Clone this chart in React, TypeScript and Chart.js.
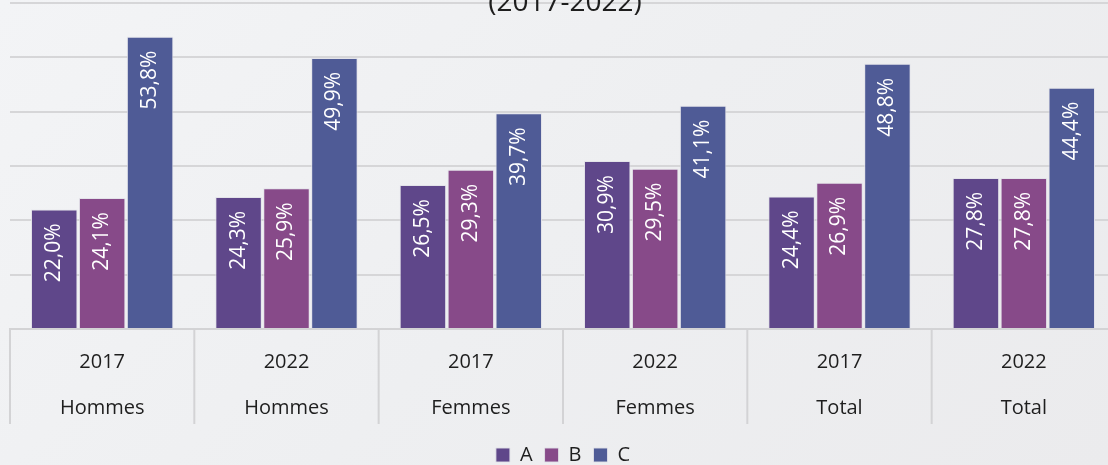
import React, { useEffect, useRef } from "react";
import { Chart, registerables } from "chart.js";

Chart.register(...registerables);

const categories: string[][] = [
  ["2017", "Hommes"],
  ["2022", "Hommes"],
  ["2017", "Femmes"],
  ["2022", "Femmes"],
  ["2017", "Total"],
  ["2022", "Total"],
];
const seriesNames = ["A", "B", "C"];
const seriesA = [22.0, 24.3, 26.5, 30.9, 24.4, 27.8];
const seriesB = [24.1, 25.9, 29.3, 29.5, 26.9, 27.8];
const seriesC = [53.8, 49.9, 39.7, 41.1, 48.8, 44.4];
const seriesColors = ["#5f478a", "#874a89", "#4f5b96"];
const titleText = "(2017-2022)";

const FONT = '"Open Sans", "Noto Sans", sans-serif';

const fmt = (v: number) => v.toFixed(1).replace(".", ",") + "%";

const valueLabels = {
  id: "valueLabels",
  afterDatasetsDraw(chart: any) {
    const ctx = chart.ctx;
    chart.data.datasets.forEach((ds: any, di: number) => {
      const meta = chart.getDatasetMeta(di);
      meta.data.forEach((bar: any, i: number) => {
        const v = ds.data[i];
        ctx.save();
        ctx.translate(bar.x, bar.y + 14);
        ctx.rotate(-Math.PI / 2);
        ctx.textAlign = "right";
        ctx.textBaseline = "middle";
        ctx.fillStyle = "#ffffff";
        ctx.font = `21px ${FONT}`;
        ctx.fillText(fmt(v), 0, 0);
        ctx.restore();
      });
    });
  },
};

const categorySeparators = {
  id: "categorySeparators",
  afterDraw(chart: any) {
    const sc = chart.scales.x;
    const n = chart.data.labels.length;
    const ctx = chart.ctx;
    ctx.save();
    ctx.strokeStyle = "#d3d3d5";
    ctx.lineWidth = 2;
    for (let i = 0; i <= n; i++) {
      const x = sc.left + (i * sc.width) / n;
      ctx.beginPath();
      ctx.moveTo(x, sc.top);
      ctx.lineTo(x, sc.top + 95);
      ctx.stroke();
    }
    ctx.restore();
  },
};

export default function App() {
  const ref = useRef<HTMLCanvasElement | null>(null);
  useEffect(() => {
    if (!ref.current) return;
    const data = [seriesA, seriesB, seriesC];
    const chart = new Chart(ref.current, {
      type: "bar",
      data: {
        labels: categories,
        datasets: seriesNames.map((name, i) => ({
          label: name,
          data: data[i],
          backgroundColor: seriesColors[i],
          borderColor: "rgba(225,225,232,0.9)",
          borderWidth: 1,
          categoryPercentage: 0.78,
          barPercentage: 0.97,
        })),
      },
      options: {
        responsive: false,
        animation: false,
        devicePixelRatio: 1,
        layout: { padding: { left: 10, right: 0, top: 3, bottom: 0 } },
        scales: {
          x: {
            grid: { display: false, drawTicks: false },
            border: { display: true, color: "#d3d3d5", width: 2 },
            ticks: {
              padding: 10,
              color: "#1e1e1e",
              font: { family: FONT, size: 20, lineHeight: 2.3 },
              maxRotation: 0,
              autoSkip: false,
            },
            afterFit: (scale: any) => {
              scale.height = scale.height - 8;
            },
          },
          y: {
            min: 0,
            max: 60,
            ticks: { display: false, stepSize: 10 },
            grid: { color: "#d6d6d8", lineWidth: 2, drawTicks: false },
            border: { display: false },
          },
        },
        plugins: {
          legend: {
            position: "bottom",
            labels: {
              boxWidth: 14,
              boxHeight: 14,
              padding: 12,
              color: "#1e1e1e",
              font: { family: FONT, size: 20 },
            },
          },
          tooltip: { enabled: false },
          title: { display: false },
        },
      },
      plugins: [valueLabels, categorySeparators],
    });
    return () => chart.destroy();
  }, []);

  return (
    <div
      style={{
        position: "absolute",
        left: 0,
        top: 0,
        width: 1108,
        height: 465,
        overflow: "hidden",
        background: "linear-gradient(135deg, #f3f4f6 0%, #eeeff1 50%, #ebebed 100%)",
      }}
    >
      <canvas ref={ref} width={1116} height={475} style={{ position: "absolute", left: 0, top: 0, width: 1116, height: 475 }} />
      <div
        style={{
          position: "absolute",
          left: 0,
          width: 1130,
          top: -14,
          textAlign: "center",
          fontFamily: FONT,
          fontSize: 28,
          lineHeight: 1,
          color: "#1e1e1e",
        }}
      >
        {titleText}
      </div>
    </div>
  );
}
